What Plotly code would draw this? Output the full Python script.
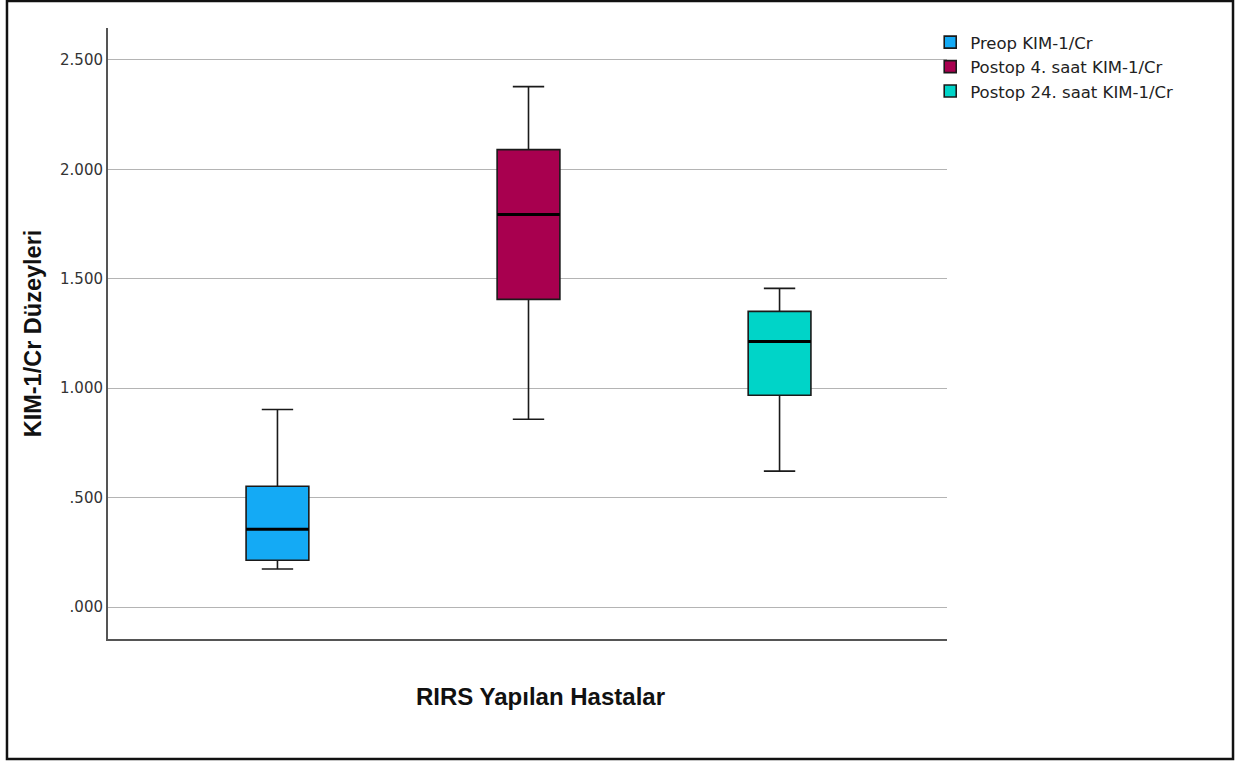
import plotly.graph_objects as go

groups = ["Preop KIM-1/Cr", "Postop 4. saat KIM-1/Cr", "Postop 24. saat KIM-1/Cr"]
colors = ["#14aaf5", "#a8004f", "#00d4c8"]
lower_whisker = [0.174, 0.858, 0.621]
q1 = [0.214, 1.406, 0.968]
median = [0.356, 1.794, 1.214]
q3 = [0.552, 2.090, 1.351]
upper_whisker = [0.903, 2.378, 1.456]

tick_vals = [0, 0.5, 1.0, 1.5, 2.0, 2.5]
tick_text = [".000", ".500", "1.000", "1.500", "2.000", "2.500"]
x_title = "RIRS Yapılan Hastalar"
y_title = "KIM-1/Cr Düzeyleri"

box_w = 0.25

fig = go.Figure()
for i, g in enumerate(groups):
    fig.add_trace(go.Box(
        x=[i], name=g,
        q1=[q1[i]], median=[median[i]], q3=[q3[i]],
        lowerfence=[lower_whisker[i]], upperfence=[upper_whisker[i]],
        fillcolor=colors[i],
        line=dict(color="#1a1a1a", width=1.6),
        width=box_w, whiskerwidth=0.5,
        boxpoints=False, hoverinfo="skip",
    ))
for i in range(len(groups)):
    fig.add_trace(go.Scatter(
        x=[i - box_w / 2, i + box_w / 2], y=[median[i], median[i]],
        mode="lines", line=dict(color="#000000", width=3),
        showlegend=False, hoverinfo="skip",
    ))

fig.add_shape(type="rect", xref="paper", yref="paper",
              x0=-0.1204, x1=1.3409, y0=-0.1964, y1=1.0442,
              line=dict(color="#111111", width=2.5), fillcolor="rgba(0,0,0,0)", layer="below")

fig.add_annotation(text="<b>" + x_title + "</b>", xref="paper", yref="paper",
                   x=0.516, y=-0.0933, xanchor="center", yanchor="middle",
                   showarrow=False,
                   font=dict(size=24, color="#111111",
                             family="Liberation Sans, Arial, sans-serif"))

fig.update_layout(
    width=1242, height=762,
    margin=dict(l=108, r=295, t=28, b=123),
    paper_bgcolor="white", plot_bgcolor="white",
    font=dict(family="DejaVu Sans, Liberation Sans, sans-serif", color="#333333"),
    showlegend=True,
    legend=dict(x=0.98, y=1.005, xanchor="left", yanchor="top",
                font=dict(size=16.5, color="#222222",
                          family="DejaVu Sans, sans-serif"),
                bgcolor="rgba(0,0,0,0)", tracegroupgap=0, itemwidth=30),
    xaxis=dict(range=[-0.675, 2.667], showticklabels=False, ticks="",
               showgrid=False, zeroline=False,
               showline=True, linecolor="#555555", linewidth=2),
    yaxis=dict(range=[-0.146, 2.646], tickvals=tick_vals, ticktext=tick_text,
               ticks="", showgrid=True, gridcolor="#b4b4b4", gridwidth=1.2,
               zeroline=False, showline=True, linecolor="#555555", linewidth=2,
               tickfont=dict(size=15, color="#333333"),
               title=dict(text="<b>" + y_title + "</b>", standoff=12,
                          font=dict(size=23.5, color="#111111",
                                    family="Liberation Sans, Arial, sans-serif"))),
)

fig.write_html("out.html", config={"displayModeBar": False},
               post_script="document.body.style.margin='0';document.body.style.overflow='hidden';")
